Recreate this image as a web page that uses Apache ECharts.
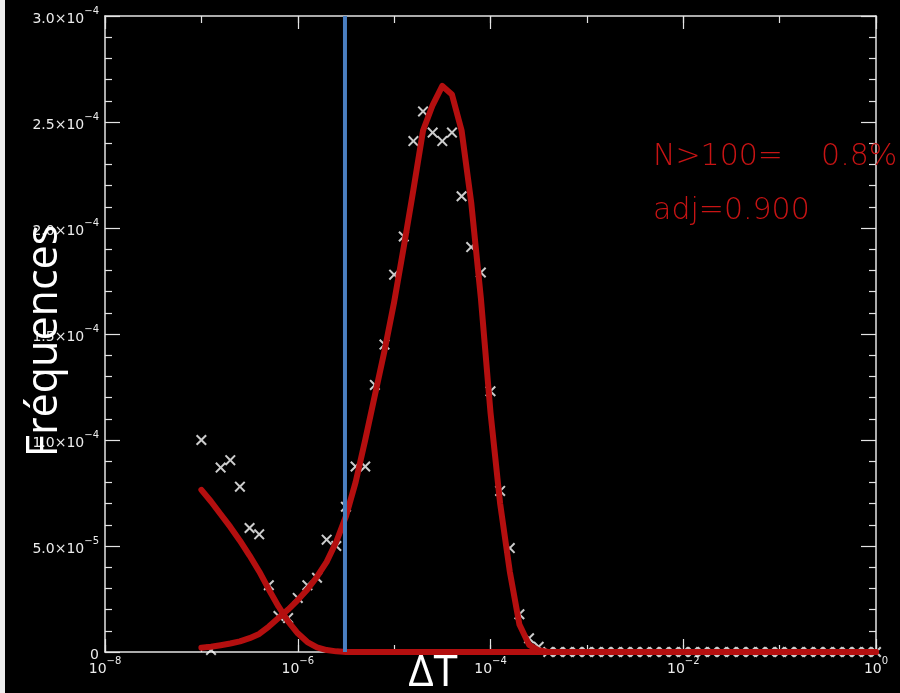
<!DOCTYPE html>
<html>
<head>
<meta charset="utf-8">
<script src="https://cdn.jsdelivr.net/npm/echarts@6/dist/echarts.min.js"></script>
<style>
html,body{margin:0;padding:0;background:#000;}
#chart{width:900px;height:693px;}
</style>
</head>
<body>
<div id="chart"></div>
<script>
// x positions: log10(ΔT) of each bin
const xExp = [-7.0,-6.9,-6.8,-6.7,-6.6,-6.5,-6.4,-6.3,-6.2,-6.1,
  -6.0,-5.9,-5.8,-5.7,-5.6,-5.5,-5.4,-5.3,-5.2,-5.1,
  -5.0,-4.9,-4.8,-4.7,-4.6,-4.5,-4.4,-4.3,-4.2,-4.1,
  -4.0,-3.9,-3.8,-3.7,-3.6,-3.5,-3.4,-3.3,-3.2,-3.1,
  -3.0,-2.9,-2.8,-2.7,-2.6,-2.5,-2.4,-2.3,-2.2,-2.1,
  -2.0,-1.9,-1.8,-1.7,-1.6,-1.5,-1.4,-1.3,-1.2,-1.1,
  -1.0,-0.9,-0.8,-0.7,-0.6,-0.5,-0.4,-0.3,-0.2,-0.1,0.0];

// observed frequencies (crosses)
const freqObs = [1.00e-4,1.0e-6,8.7e-5,9.05e-5,7.8e-5,5.85e-5,5.55e-5,3.15e-5,1.7e-5,1.6e-5,
  2.55e-5,3.15e-5,3.5e-5,5.3e-5,5.0e-5,6.85e-5,8.75e-5,8.75e-5,1.26e-4,1.45e-4,
  1.78e-4,1.96e-4,2.41e-4,2.55e-4,2.45e-4,2.41e-4,2.45e-4,2.15e-4,1.91e-4,1.79e-4,
  1.23e-4,7.6e-5,4.9e-5,1.78e-5,6.5e-6,2.5e-6,0,0,0,0,
  0,0,0,0,0,0,0,0,0,0,
  0,0,0,0,0,0,0,0,0,0,
  0,0,0,0,0,0,0,0,0,0,0];

// fitted curve 1 (decreasing component)
const fitLow = [7.65e-5,7.1e-5,6.5e-5,5.9e-5,5.25e-5,4.55e-5,3.8e-5,2.95e-5,2.15e-5,1.45e-5,
  8.8e-6,4.7e-6,2.2e-6,9e-7,3e-7,0,0,0,0,0,
  0,0,0,0,0,0,0,0,0,0,
  0,0,0,0,0,0,0,0,0,0,
  0,0,0,0,0,0,0,0,0,0,
  0,0,0,0,0,0,0,0,0,0,
  0,0,0,0,0,0,0,0,0,0,0];

// fitted curve 2 (main peak)
const fitPeak = [2.0e-6,2.5e-6,3.2e-6,4.0e-6,5.0e-6,6.5e-6,8.5e-6,1.2e-5,1.6e-5,2.0e-5,
  2.45e-5,2.95e-5,3.55e-5,4.25e-5,5.2e-5,6.4e-5,8.0e-5,1.0e-4,1.21e-4,1.42e-4,
  1.65e-4,1.91e-4,2.18e-4,2.46e-4,2.58e-4,2.67e-4,2.63e-4,2.46e-4,2.12e-4,1.67e-4,
  1.13e-4,7.0e-5,3.8e-5,1.3e-5,3.4e-6,8e-7,0,0,0,0,
  0,0,0,0,0,0,0,0,0,0,
  0,0,0,0,0,0,0,0,0,0,
  0,0,0,0,0,0,0,0,0,0,0];

// threshold (blue line), log10(ΔT)
const thresholdExp = -5.51;

// axis ranges / ticks
const xMin = -8, xMax = 0;
const yMin = 0, yMax = 3.0e-4, yStep = 5.0e-5;

const annot1 = 'N>100=    0.8%';
const annot2 = 'adj=0.900';
const yTitle = 'Fréquences';
const xTitle = 'ΔT';

const axisColor = '#e4e4e4';
const labelColor = '#ececec';
const redCol = '#b40f0f';

const pairs = (ys) => xExp.map((x, i) => [x, ys[i]]);

const richLbl = {
  m: {fontFamily: 'DejaVu Sans', fontSize: 14, color: labelColor, lineHeight: 20, verticalAlign: 'bottom'},
  s: {fontFamily: 'DejaVu Sans', fontSize: 10, color: labelColor, lineHeight: 20, verticalAlign: 'top'}
};

function xFmt(v) {
  const e = Math.round(v);
  return '{m|10}{s|' + (e === 0 ? '0' : '\u2212' + Math.abs(e)) + '}';
}
function yFmt(v) {
  if (Math.abs(v) < 1e-12) return '{m|0}';
  const e = Math.floor(Math.log10(v) + 1e-9);
  const m = v / Math.pow(10, e);
  return '{m|' + m.toFixed(1) + '\u00d710}{s|\u2212' + Math.abs(e) + '}';
}

const baseX = {
  type: 'value', min: xMin, max: xMax, splitLine: {show: false},
  axisLine: {show: false, onZero: false}
};
const xAxes = [
  Object.assign({}, baseX, {position: 'bottom', interval: 2,
    axisLine: {show: true, onZero: false, lineStyle: {color: axisColor, width: 1.5}},
    axisTick: {show: true, inside: true, length: 13, lineStyle: {color: axisColor, width: 1.2}},
    axisLabel: {show: true, formatter: xFmt, rich: richLbl, margin: 4}}),
  Object.assign({}, baseX, {position: 'bottom', interval: 1,
    axisTick: {show: true, inside: true, length: 7, lineStyle: {color: axisColor, width: 1.2}},
    axisLabel: {show: false}}),
  Object.assign({}, baseX, {position: 'top', interval: 2,
    axisLine: {show: true, onZero: false, lineStyle: {color: axisColor, width: 1.5}},
    axisTick: {show: true, inside: true, length: 13, lineStyle: {color: axisColor, width: 1.2}},
    axisLabel: {show: false}}),
  Object.assign({}, baseX, {position: 'top', interval: 1,
    axisTick: {show: true, inside: true, length: 7, lineStyle: {color: axisColor, width: 1.2}},
    axisLabel: {show: false}})
];

const baseY = {
  type: 'value', min: yMin, max: yMax, interval: yStep, splitLine: {show: false},
  axisLine: {show: true, onZero: false, lineStyle: {color: axisColor, width: 1.5}},
  axisTick: {show: true, inside: true, length: 15, lineStyle: {color: axisColor, width: 1.2}},
  minorTick: {show: true, splitNumber: 5, length: 7, lineStyle: {color: axisColor, width: 1.2}}
};
const yAxes = [
  Object.assign({}, baseY, {position: 'left',
    axisLabel: {show: true, formatter: yFmt, rich: richLbl, margin: 6}}),
  Object.assign({}, baseY, {position: 'right', axisLabel: {show: false}})
];

const crossPath = 'path://M0,1.3L1.3,0L5,3.7L8.7,0L10,1.3L6.3,5L10,8.7L8.7,10L5,6.3L1.3,10L0,8.7L3.7,5Z';

const option = {
  backgroundColor: '#000000',
  animation: false,
  grid: {left: 105, right: 24, top: 16, bottom: 41, containLabel: false},
  xAxis: xAxes,
  yAxis: yAxes,
  series: [
    {
      type: 'scatter', name: 'obs', xAxisIndex: 0, yAxisIndex: 0,
      data: pairs(freqObs), symbol: crossPath, symbolSize: 11,
      itemStyle: {color: '#ffffff'}, z: 2, silent: true
    },
    {
      type: 'line', name: 'fitLow', xAxisIndex: 0, yAxisIndex: 0,
      data: pairs(fitLow), showSymbol: false, symbol: 'none', clip: false,
      lineStyle: {color: redCol, width: 6, cap: 'round', join: 'round'}, z: 3, silent: true
    },
    {
      type: 'line', name: 'fitPeak', xAxisIndex: 0, yAxisIndex: 0,
      data: pairs(fitPeak), showSymbol: false, symbol: 'none', clip: false,
      lineStyle: {color: redCol, width: 6, cap: 'round', join: 'round'}, z: 3, silent: true
    },
    {
      type: 'line', name: 'seuil', xAxisIndex: 0, yAxisIndex: 0,
      data: [[thresholdExp, yMin], [thresholdExp, yMax]], showSymbol: false, symbol: 'none', clip: false,
      lineStyle: {color: '#4a7ec0', width: 4}, z: 4, silent: true
    }
  ],
  graphic: [
    {type: 'rect', left: 0, top: 0, z: 100, shape: {width: 5, height: 693}, style: {fill: '#eeeeee'}},
    {type: 'text', x: 653, y: 157, z: 100,
      style: {text: annot1, fill: '#c81414', fontFamily: 'DejaVu Sans', fontWeight: 200, fontSize: 30, textAlign: 'left', textVerticalAlign: 'middle'}},
    {type: 'text', x: 653, y: 211, z: 100,
      style: {text: annot2, fill: '#c81414', fontFamily: 'DejaVu Sans', fontWeight: 200, fontSize: 30, textAlign: 'left', textVerticalAlign: 'middle'}},
    {type: 'text', x: 45, y: 341, rotation: Math.PI / 2, z: 100,
      style: {text: yTitle, fill: '#ffffff', fontFamily: 'Open Sans', fontSize: 43, textAlign: 'center', textVerticalAlign: 'middle'}},
    {type: 'text', x: 433, y: 673, z: 100,
      style: {text: xTitle, fill: '#ffffff', fontFamily: 'Open Sans', fontSize: 44, textAlign: 'center', textVerticalAlign: 'middle'}}
  ]
};

const chart = echarts.init(document.getElementById('chart'), null, {renderer: 'canvas'});
chart.setOption(option);
</script>
</body>
</html>
